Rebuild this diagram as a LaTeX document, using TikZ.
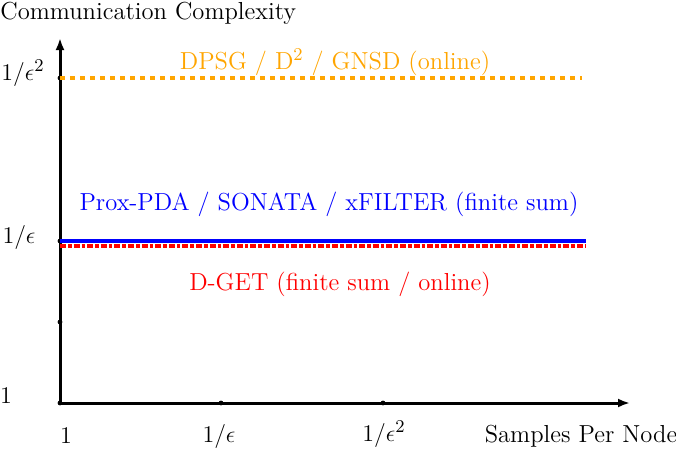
\documentclass[tikz,border=0pt]{standalone}
\usetikzlibrary{arrows.meta}
\definecolor{dpsgorange}{RGB}{255,165,0}
\begin{document}
\begin{tikzpicture}[x=0.5pt,y=-0.5pt,font=\fontsize{12.3}{14}\selectfont]
\tikzstyle{every node}+=[inner sep=0pt]
\tikzstyle{axis}=[black,line width=1.5pt,-{Latex[length=6pt,width=4.5pt]}]
\tikzstyle{tickdot}=[black,radius=1.2pt]
\useasboundingbox (0,0) rectangle (676,451);
% axes
\coordinate (O) at (60,403);
\coordinate (Ytop) at (60,38);
\coordinate (Xend) at (630,403);
\draw [axis] (O) -- (Ytop);
\draw [axis] (O) -- (Xend);
\node [anchor=west] (ylab) at (0,13) {Communication Complexity};
\node (xlab) at (581,436) {Samples Per Node};
% ticks on the axes
\coordinate (Y0) at (60,403);
\coordinate (Y1) at (60,322);
\coordinate (Y2) at (60,241);
\coordinate (Y4) at (60,78);
\coordinate (X1) at (221,403);
\coordinate (X2) at (383,403);
\fill [tickdot] (Y0) circle;
\fill [tickdot] (Y1) circle;
\fill [tickdot] (Y2) circle;
\fill [tickdot] (Y4) circle;
\fill [tickdot] (X1) circle;
\fill [tickdot] (X2) circle;
\node (y0lab) at (6,396) {$1$};
\node (y2lab) at (19,237) {$1/\epsilon$};
\node (y4lab) at (23,73) {$1/\epsilon^2$};
\node (x0lab) at (66,436) {$1$};
\node (x1lab) at (219,436) {$1/\epsilon$};
\node (x2lab) at (384,434) {$1/\epsilon^2$};
% complexity levels
\coordinate (Oend) at (582,78);
\coordinate (Bstart) at (60,241);
\coordinate (Bend) at (586,241);
\coordinate (Rstart) at (60,246);
\coordinate (Rend) at (586,246);
\draw [dpsgorange,line width=2pt,dash pattern=on 2.5pt off 2.5pt] (Y4) -- (Oend);
\draw [blue,line width=2.4pt] (Bstart) -- (Bend);
\draw [red,line width=1.8pt,densely dashdotted] (Rstart) -- (Rend);
\node [text=dpsgorange] (dpsg) at (335,62) {DPSG / D$^2$ / GNSD (online)};
\node [text=blue] (prox) at (329,204) {Prox-PDA / SONATA / xFILTER (finite sum)};
\node [text=red] (dget) at (340,284) {D-GET (finite sum / online)};
\end{tikzpicture}
\end{document}
